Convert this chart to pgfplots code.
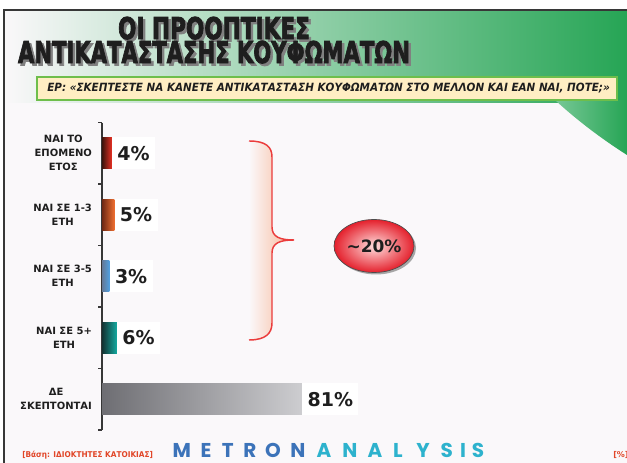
\documentclass[border=0pt]{standalone}
\usepackage{fontspec}
\usepackage{graphicx}
\usepackage{pgfplots}
\pgfplotsset{compat=1.18}
\newfontfamily\dvs{DejaVu Sans}
\newfontfamily\dvsheavy{DejaVu Sans}[BoldFeatures={FakeBold=3}]
\newfontfamily\dvsmid{DejaVu Sans}[BoldFeatures={FakeBold=1.2}]
\newfontfamily\logofont{Poppins}
\definecolor{bg}{RGB}{250,248,250}
\definecolor{grn}{RGB}{38,165,85}
\definecolor{grnL}{RGB}{120,200,150}
\definecolor{frm}{RGB}{55,55,55}
\definecolor{txt}{RGB}{30,30,30}
\definecolor{rdL}{RGB}{60,20,12}\definecolor{rdR}{RGB}{232,48,36}
\definecolor{orL}{RGB}{110,40,20}\definecolor{orR}{RGB}{238,110,48}
\definecolor{blL}{RGB}{100,120,150}\definecolor{blR}{RGB}{80,160,225}
\definecolor{tlL}{RGB}{20,50,50}\definecolor{tlR}{RGB}{20,170,160}
\definecolor{gyL}{RGB}{110,110,115}\definecolor{gyR}{RGB}{205,205,208}
\definecolor{brc}{RGB}{235,60,60}\definecolor{peach}{RGB}{248,180,148}
\definecolor{ell}{RGB}{228,32,44}\definecolor{ellin}{RGB}{255,222,222}
\definecolor{foot}{RGB}{225,70,40}
\definecolor{mblue}{RGB}{60,115,185}\definecolor{mcyan}{RGB}{45,178,205}
\definecolor{boxy}{RGB}{255,238,195}\definecolor{boxo}{RGB}{255,196,85}\definecolor{boxg}{RGB}{110,190,75}
\newcommand\tickfont{\dvs\bfseries\fontsize{7.5}{10.5}\selectfont}
\newcommand\valfont{\dvs\bfseries\fontsize{14.25}{16}\selectfont}
\newcommand\titlefont{\dvsheavy\bfseries\fontsize{22.5}{18}\selectfont}
\newcommand\titletext{\resizebox{144pt}{\height}{ΟΙ ΠΡΟΟΠΤΙΚΕΣ}\\\resizebox{294pt}{\height}{ΑΝΤΙΚΑΤΑΣΤΑΣΗΣ ΚΟΥΦΩΜΑΤΩΝ}}
\begin{document}
\begin{tikzpicture}
\path[use as bounding box] (0,0) rectangle (470.25pt,347.25pt);
\begin{scope}[x=0.75pt,y=0.75pt]
\fill[white] (0,0) rectangle (627,463);
\fill[bg] (4,0) rectangle (627,453);
\shade[left color=bg, right color=grn] (4,360) rectangle (627,453);
\shade[left color=grnL, right color=grn] (555,363) -- (627,363) -- (627,308) .. controls (605,322) and (580,340) .. (555,363) -- cycle;
\draw[frm, line width=1.1pt] (4,0) -- (4,453) -- (627,453);
% title (shadow, then text)
\node[anchor=north, inner sep=0, align=center, font=\titlefont, text=black!50] at (216.5,444) {\titletext};
\node[anchor=north, inner sep=0, align=center, font=\titlefont, text=txt] at (214,446.5) {\titletext};
% question box
\shade[left color=boxy, middle color=boxo, right color=boxy] (37,363) rectangle (617,386);
\draw[boxg, line width=1.5pt] (37,363) rectangle (617,386);
\node[anchor=base west, inner sep=0, text=txt] at (47,371) {\resizebox{422pt}{\height}{\dvsmid\bfseries\itshape\fontsize{8.5}{10}\selectfont ΕΡ: «ΣΚΕΠΤΕΣΤΕ ΝΑ ΚΑΝΕΤΕ ΑΝΤΙΚΑΤΑΣΤΑΣΗ ΚΟΥΦΩΜΑΤΩΝ ΣΤΟ ΜΕΛΛΟΝ ΚΑΙ ΕΑΝ ΝΑΙ, ΠΟΤΕ;»}};
\end{scope}
\begin{axis}[
  at={(76.5pt,24.75pt)}, anchor=south west,
  scale only axis, width=240.75pt, height=230.625pt,
  xmin=0, xmax=130, ymin=-0.5, ymax=4.5, y dir=reverse,
  hide x axis, axis y line*=left,
  y axis line style={-, draw=frm, line width=0.9pt},
  ytick={0,1,2,3,4},
  yticklabels={{ΝΑΙ ΤΟ\\ΕΠΟΜΕΝΟ\\ΕΤΟΣ},{ΝΑΙ ΣΕ 1-3\\ΕΤΗ},{ΝΑΙ ΣΕ 3-5\\ΕΤΗ},{ΝΑΙ ΣΕ 5+\\ΕΤΗ},{ΔΕ\\ΣΚΕΠΤΟΝΤΑΙ}},
  major tick length=0pt,
  minor ytick={-0.5,0.5,1.5,2.5,3.5,4.5}, minor tick length=3pt, tick align=outside,
  minor tick style={draw=frm, line width=0.9pt},
  yticklabel style={align=center, font=\tickfont, text=txt, xshift=-4pt},
  xbar, bar width=0.5, bar shift=0pt,
  nodes near coords={\pgfmathprintnumber[assume math mode=true]{\pgfplotspointmeta}\%},
  every node near coord/.append style={font=\valfont, text=txt, fill=white, inner xsep=4pt, inner ysep=6.5pt, anchor=west},
  clip=false,
]
\addplot[xbar, bar shift=0pt, draw=none, left color=rdL, right color=rdR] coordinates {(4,0)};
\addplot[xbar, bar shift=0pt, draw=none, left color=orL, right color=orR] coordinates {(5,1)};
\addplot[xbar, bar shift=0pt, draw=none, left color=blL, right color=blR] coordinates {(3,2)};
\addplot[xbar, bar shift=0pt, draw=none, left color=tlL, right color=tlR] coordinates {(6,3)};
\addplot[xbar, bar shift=0pt, draw=none, left color=gyL, right color=gyR] coordinates {(81,4)};
\end{axis}
\begin{scope}[x=0.75pt,y=0.75pt]
% brace
\shade[left color=bg, right color=peach] (249,322) .. controls (266,322) and (272,316) .. (272,306) -- (272,236) .. controls (272,226) and (280,223) .. (294,223) .. controls (280,223) and (272,220) .. (272,210) -- (272,140) .. controls (272,130) and (266,123) .. (249,123) -- cycle;
\draw[brc, line width=1.1pt] (249,322) .. controls (266,322) and (272,316) .. (272,306) -- (272,236) .. controls (272,226) and (280,223) .. (294,223) .. controls (280,223) and (272,220) .. (272,210) -- (272,140) .. controls (272,130) and (266,123) .. (249,123);
% ellipse
\fill[black!35] (376,215) ellipse [x radius=40, y radius=26.5];
\shade[inner color=ellin, outer color=ell] (374,217) ellipse [x radius=40, y radius=26.5];
\draw[black!70, line width=0.5pt] (374,217) ellipse [x radius=40, y radius=26.5];
\node[text=txt, font=\dvs\bfseries\fontsize{12.75}{14}\selectfont] at (374,217) {\textasciitilde 20\%};
% footer
\node[anchor=base west, inner sep=0, text=foot] at (22,5) {\resizebox{98pt}{\height}{\dvs\bfseries\fontsize{6}{7}\selectfont [Βάση: ΙΔΙΟΚΤΗΤΕΣ ΚΑΤΟΙΚΙΑΣ]}};
\node[anchor=base west, inner sep=0, text=foot] at (613,5) {\dvs\bfseries\fontsize{6}{7}\selectfont [\%]};
\foreach \l/\xx/\c in {M/181.7/mblue, E/206/mblue, T/227.7/mblue, R/250/mblue, O/273/mblue, N/298/mblue, A/324/mcyan, N/350/mcyan, A/375/mcyan, L/398/mcyan, Y/423/mcyan, S/446.7/mcyan, I/463/mcyan, S/478/mcyan}
  \node[anchor=base, inner sep=0, text=\c] at (\xx,5) {\logofont\bfseries\fontsize{15}{16}\selectfont \l};
\end{scope}
\end{tikzpicture}
\end{document}
